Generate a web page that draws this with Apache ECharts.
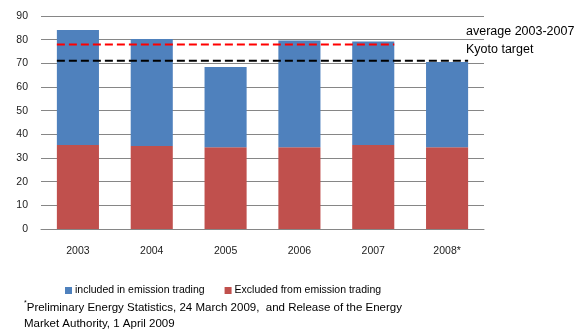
<!DOCTYPE html>
<html><head><meta charset="utf-8">
<script src="https://cdn.jsdelivr.net/npm/echarts@6/dist/echarts.min.js"></script>
<style>html,body{margin:0;padding:0;background:#fff}#c{width:587px;height:335px}</style>
</head><body><div id="c"></div>
<script>
var categories = ['2003','2004','2005','2006','2007','2008*'];
var excluded = [35.5, 35.1, 34.5, 34.5, 35.5, 34.5];
var included = [48.6, 45.2, 33.9, 45.2, 43.7, 36.1];
var averageValue = 78.0;
var averageRange = [0, 4];   // category indices 2003..2007
var kyotoValue = 71.1;
var kyotoRange = [0, 5];     // category indices 2003..2008
var yTicks = [0, 90, 10];
var seriesNames = ['included in emission trading', 'Excluded from emission trading'];

var FONT = '"Liberation Sans", sans-serif';
var barFrac = 0.57;
var half = barFrac / 2;
function lineData(v, r) { return [[r[0] + 0.5 - half, v], [r[1] + 0.5 + half, v]]; }

var chart = echarts.init(document.getElementById('c'));
chart.setOption({
  animation: false,
  grid: { left: 41, right: 103, top: 16, bottom: 106 },
  xAxis: [{
    type: 'category', data: categories,
    axisLine: { lineStyle: { color: '#868686' } },
    axisTick: { show: false },
    axisLabel: { color: '#222', fontFamily: FONT, fontSize: 10.5, margin: 17 }
  }, {
    type: 'value', min: 0, max: categories.length, show: false
  }],
  yAxis: {
    type: 'value', min: yTicks[0], max: yTicks[1], interval: yTicks[2],
    axisLine: { show: false }, axisTick: { show: false },
    splitLine: { lineStyle: { color: '#868686', width: 1 } },
    axisLabel: { color: '#222', fontFamily: FONT, fontSize: 10.5, margin: 13 }
  },
  legend: {
    data: seriesNames, left: 60, top: 280, itemWidth: 7, itemHeight: 7, itemGap: 20,
    icon: 'rect', textStyle: { fontFamily: FONT, fontSize: 10.5, color: '#000', padding: [0,0,0,-2] }
  },
  series: [{
    name: seriesNames[1], type: 'bar', stack: 's', data: excluded,
    barWidth: (barFrac * 100) + '%', itemStyle: { color: '#C0504D' }
  }, {
    name: seriesNames[0], type: 'bar', stack: 's', data: included,
    barWidth: (barFrac * 100) + '%', itemStyle: { color: '#4F81BD' }
  }, {
    type: 'line', xAxisIndex: 1, data: lineData(averageValue, averageRange),
    symbol: 'none', lineStyle: { color: '#FF0000', width: 2, type: [8, 4] }, z: 5
  }, {
    type: 'line', xAxisIndex: 1, data: lineData(kyotoValue, kyotoRange),
    symbol: 'none', lineStyle: { color: '#000', width: 2, type: [8, 4] }, z: 5
  }],
  graphic: [
    { type: 'text', left: 466, top: 25, style: { text: 'average 2003-2007', font: '12.5px ' + FONT, fill: '#000' } },
    { type: 'text', left: 466, top: 43, style: { text: 'Kyoto target', font: '12.5px ' + FONT, fill: '#000' } },
    { type: 'text', left: 24, top: 300, style: {
      text: '{s|*}Preliminary Energy Statistics, 24 March 2009,  and Release of the Energy\nMarket Authority, 1 April 2009',
      font: '11.5px ' + FONT, fill: '#000', lineHeight: 16,
      rich: { s: { fontSize: 7, verticalAlign: 'top', fontFamily: FONT } } } }
  ]
});
</script></body></html>
